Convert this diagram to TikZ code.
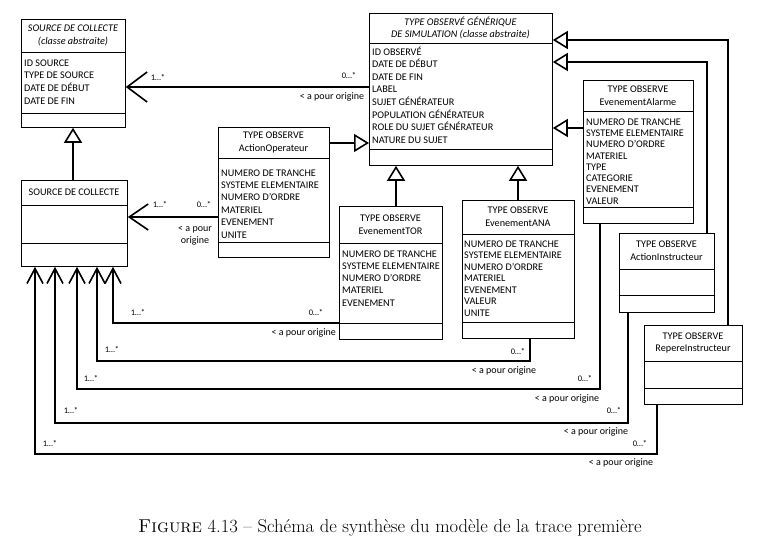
\documentclass[tikz,border=0pt]{standalone}
\usepackage{fontspec}
\newfontfamily\diagfont{Carlito}
\usetikzlibrary{arrows.meta}
\tikzset{
  classbox/.style   = {draw, line width=0.8pt, anchor=north west, inner sep=0pt},
  classline/.style  = {line width=0.8pt},
  classtitle/.style = {align=center, inner sep=0pt, font=\diagfont\fontsize{10.2}{12.8}\selectfont},
  attrs/.style      = {anchor=north west, inner sep=0pt, align=left, font=\diagfont\fontsize{10.2}{#1}\selectfont},
  lbl/.style        = {inner sep=0pt, align=center, font=\diagfont\fontsize{10}{12}\selectfont},
  mult/.style       = {inner sep=0pt, font=\diagfont\fontsize{8.5}{10}\selectfont},
  assoc/.style      = {line width=1.6pt, -{Straight Barb[length=15pt,width=16pt]}},
  inherit/.style    = {line width=1.6pt, -{Triangle[length=15pt,width=18pt,fill=white]}}
}
% one class: name, x1, y1, x2, y2, separators, title
\newcommand\umlclass[8]{%
  \node[classbox, minimum width={(#4-#2)*1pt}, minimum height={(#5-#3)*1pt}] (#1) at (#2,#3) {};
  \draw[classline] (#1.west |- 0,#6) -- (#1.east |- 0,#6)
                   (#1.west |- 0,#7) -- (#1.east |- 0,#7);
  \node[classtitle] (#1-title) at ({(#2+#4)/2},{(#3+#6)/2}) {#8};
}

\begin{document}
\begin{tikzpicture}[x=1pt,y=-1pt]
  \useasboundingbox (0,0) rectangle (760,553);

  % classes
  \umlclass{srca}{21}{19}{125}{127}{52}{113}{\itshape SOURCE DE COLLECTE\\\itshape (classe abstraite)}
  \umlclass{srcc}{21}{180}{127}{266}{205}{243}{SOURCE DE COLLECTE}
  \umlclass{gen}{369}{13}{552}{165}{43}{149}{\itshape TYPE OBSERVÉ GÉNÉRIQUE\\\itshape DE SIMULATION (classe abstraite)}
  \umlclass{actop}{218}{127}{329}{257}{158}{242}{TYPE OBSERVE\\ActionOperateur}
  \umlclass{tor}{339}{206}{442}{339}{243}{323}{TYPE OBSERVE\\EvenementTOR}
  \umlclass{ana}{462}{200}{574}{338}{234}{322}{TYPE OBSERVE\\EvenementANA}
  \umlclass{alarm}{583}{80}{693}{223}{111}{207}{TYPE OBSERVE\\EvenementAlarme}
  \umlclass{actinst}{619}{233}{714}{312}{269}{295}{TYPE OBSERVE\\ActionInstructeur}
  \umlclass{rep}{644}{325}{742}{404}{361}{388}{TYPE OBSERVE\\RepereInstructeur}

  % attributes
  \node[attrs=12.7] (srca-attr) at (24,57) {\rule{0pt}{9pt}ID SOURCE\\TYPE DE SOURCE\\DATE DE DÉBUT\\DATE DE FIN};
  \node[attrs=12.6] (gen-attr) at (372,46) {\rule{0pt}{9pt}ID OBSERVÉ\\DATE DE DÉBUT\\DATE DE FIN\\LABEL\\SUJET GÉNÉRATEUR\\POPULATION GÉNÉRATEUR\\ROLE DU SUJET GÉNÉRATEUR\\NATURE DU SUJET};
  \node[attrs=12.4] (actop-attr) at (221,167) {\rule{0pt}{9pt}NUMERO DE TRANCHE\\SYSTEME ELEMENTAIRE\\NUMERO D’ORDRE\\MATERIEL\\EVENEMENT\\UNITE};
  \node[attrs=12.25] (tor-attr) at (342,248) {\rule{0pt}{9pt}NUMERO DE TRANCHE\\SYSTEME ELEMENTAIRE\\NUMERO D’ORDRE\\MATERIEL\\EVENEMENT};
  \node[attrs=11.5] (ana-attr) at (464,238) {\rule{0pt}{9pt}NUMERO DE TRANCHE\\SYSTEME ELEMENTAIRE\\NUMERO D’ORDRE\\MATERIEL\\EVENEMENT\\VALEUR\\UNITE};
  \node[attrs=11.3] (alarm-attr) at (586,116) {\rule{0pt}{9pt}NUMERO DE TRANCHE\\SYSTEME ELEMENTAIRE\\NUMERO D’ORDRE\\MATERIEL\\TYPE\\CATEGORIE\\EVENEMENT\\VALEUR};

  % generalisations
  \draw[inherit] (srcc.north -| 73,0) -- (srca.south -| 73,0);
  \draw[inherit] (actop.east |- 0,143) -- (gen.west |- 0,143);
  \draw[inherit] (tor.north -| 396,0) -- (gen.south -| 396,0);
  \draw[inherit] (ana.north -| 518,0) -- (gen.south -| 518,0);
  \draw[inherit] (alarm.west |- 0,128) -- (gen.east |- 0,128);
  \draw[inherit] (actinst.north -| 707,0) |- (gen.east |- 0,62);
  \draw[inherit] (rep.north -| 728,0) |- (gen.east |- 0,40);

  % associations
  \draw[assoc, -{Straight Barb[length=20pt,width=30pt]}] (gen.west |- 0,87) -- (srca.east |- 0,87);
  \node[mult] (m1a) at (158,78) {1…*};
  \node[mult] (m1b) at (349,76) {0…*};
  \node[lbl] (o1) at (332,97) {< a pour origine};

  \draw[assoc, -{Straight Barb[length=19pt,width=26pt]}] (actop.west |- 0,217) -- (srcc.east |- 0,217);
  \node[mult] (m2a) at (160,205) {1…*};
  \node[mult] (m2b) at (204,205) {0…*};
  \node[lbl] (o2) at (195,236) {< a pour\\origine};

  \draw[assoc] (tor.west |- 0,323) -| (srcc.south -| 113,0);
  \node[mult] (m3a) at (138,313) {1…*};
  \node[mult] (m3b) at (316,313) {0…*};
  \node[lbl, anchor=east] (o3) at (336,333) {< a pour origine};

  \draw[assoc] (ana.south -| 530,0) -- ++(0,22) -| (srcc.south -| 97,0);
  \node[mult] (m4a) at (112,350) {1…*};
  \node[mult] (m4b) at (518,352) {0…*};
  \node[lbl] (o4) at (504,371) {< a pour origine};

  \draw[assoc] (alarm.south -| 600,0) -- ++(0,165) -| (srcc.south -| 77,0);
  \node[mult] (m5a) at (91,379) {1…*};
  \node[mult] (m5b) at (585,379) {0…*};
  \node[lbl] (o5) at (567,399) {< a pour origine};

  \draw[assoc] (actinst.south -| 628,0) -- ++(0,110) -| (srcc.south -| 55,0);
  \node[mult] (m6a) at (71,411) {1…*};
  \node[mult] (m6b) at (614,411) {0…*};
  \node[lbl] (o6) at (596,432) {< a pour origine};

  \draw[assoc] (rep.south -| 657,0) -- ++(0,49) -| (srcc.south -| 35,0);
  \node[mult] (m7a) at (50,444) {1…*};
  \node[mult] (m7b) at (640,444) {0…*};
  \node[lbl] (o7) at (621,463) {< a pour origine};

  % caption
  \node[font=\fontsize{18.6}{22}\selectfont] (caption) at (390,528) {\textsc{Figure} 4.13 – Schéma de synthèse du modèle de la trace première};
\end{tikzpicture}
\end{document}
